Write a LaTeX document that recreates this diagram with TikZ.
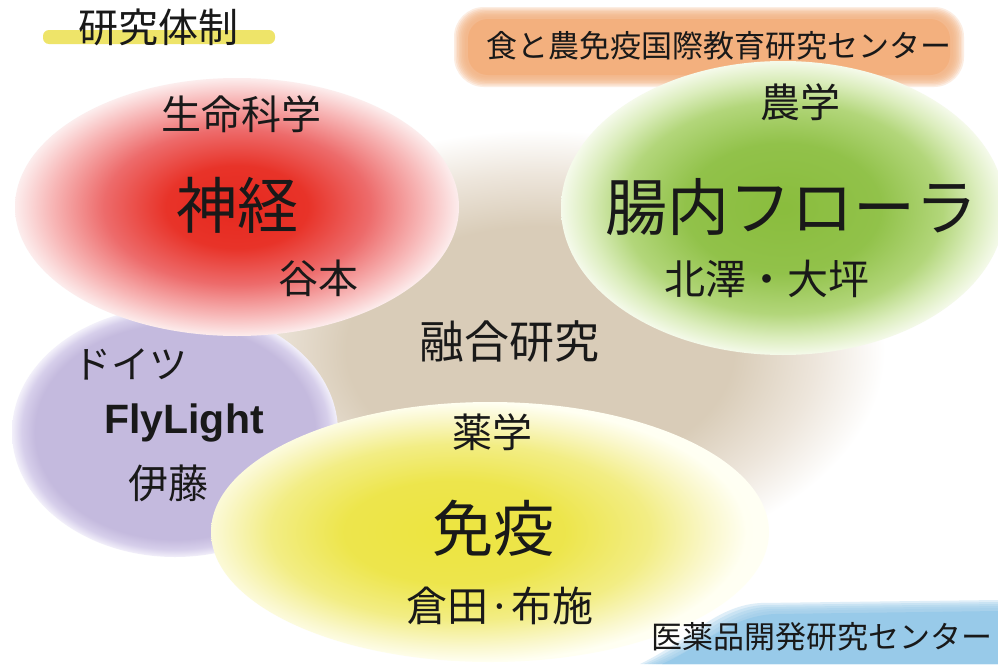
\documentclass[tikz,border=0pt]{standalone}
\usepackage{fontspec}
\setmainfont{Noto Sans CJK JP}
\newfontfamily\latinfont{Liberation Sans}
\pgfdeclareradialshading{redsh}{\pgfpoint{0bp}{0bp}}{rgb(0bp)=(0.90,0.16,0.12); rgb(8bp)=(0.91,0.20,0.16); rgb(15bp)=(0.93,0.42,0.42); rgb(21bp)=(0.97,0.72,0.72); rgb(25bp)=(0.99,0.93,0.93); rgb(50bp)=(1,1,1)}
\pgfdeclareradialshading{greensh}{\pgfpoint{0bp}{0bp}}{rgb(0bp)=(0.54,0.74,0.24); rgb(11bp)=(0.57,0.76,0.29); rgb(18bp)=(0.70,0.84,0.48); rgb(22bp)=(0.86,0.93,0.74); rgb(25bp)=(0.96,0.98,0.92); rgb(50bp)=(1,1,1)}
\pgfdeclareradialshading{yellowsh}{\pgfpoint{-4bp}{0bp}}{rgb(0bp)=(0.93,0.90,0.25); rgb(10bp)=(0.93,0.90,0.30); rgb(17bp)=(0.95,0.93,0.52); rgb(22bp)=(0.98,0.97,0.80); rgb(25bp)=(1,1,0.95); rgb(50bp)=(1,1,1)}
\pgfdeclareradialshading{purplesh}{\pgfpoint{0bp}{0bp}}{rgb(0bp)=(0.77,0.73,0.87); rgb(21.5bp)=(0.77,0.73,0.87); rgb(23.5bp)=(0.84,0.81,0.92); rgb(25bp)=(0.95,0.94,0.98); rgb(50bp)=(1,1,1)}
\pgfdeclareradialshading{brownsh}{\pgfpoint{0bp}{0bp}}{rgb(0bp)=(0.85,0.80,0.72); rgb(14bp)=(0.85,0.80,0.72); rgb(20bp)=(0.93,0.90,0.86); rgb(25bp)=(1,1,1); rgb(50bp)=(1,1,1)}
\definecolor{orng}{RGB}{243,176,126}
\definecolor{bluebar}{RGB}{152,202,233}
\definecolor{hilite}{RGB}{238,228,105}
\tikzset{
  lbl/.style={inner sep=0pt, text=black!90},
  fs/.style={font=\fontsize{#1}{#1}\selectfont}
}
\begin{document}
\begin{tikzpicture}[x=1pt,y=-1pt]
\useasboundingbox (0,0) rectangle (998,664);
\fill[white] (0,0) rectangle (998,664);
% background blob
\shade[shading=brownsh] (540,350) ellipse [x radius=345, y radius=220];
% purple
\shade[shading=purplesh] (175,432) ellipse [x radius=163, y radius=125];
% red
\shade[shading=redsh] (237,207) ellipse [x radius=222, y radius=129];
% orange bar (soft edges by layers)
\foreach \k in {0,...,7}{
  \fill[orng, opacity=0.22, rounded corners={30-1.2*\k}]
    ({454+1.6*\k},{7+1.4*\k}) rectangle ({964-1.6*\k},{87-1.4*\k});
}
\fill[orng, rounded corners=20] (468,19) rectangle (950,75);
% green
\shade[shading=greensh] (783,208) ellipse [x radius=222, y radius=147];
% yellow
\shade[shading=yellowsh] (490,532) ellipse [x radius=279, y radius=130];
% blue bar
\foreach \k in {0,...,4}{
  \fill[bluebar, opacity=0.3] ({640+4*\k},664) .. controls ({690+4*\k},{640+2*\k}) and ({715+3*\k},{606+2*\k}) .. ({760+3*\k},{603+2*\k}) -- (998,{600+2*\k}) -- (998,664) -- cycle;
}
\fill[bluebar] (662,664) .. controls (705,645) and (730,616) .. (775,614) -- (998,611) -- (998,664) -- cycle;
% highlight
\fill[hilite, rounded corners=6] (43,30) rectangle (275,44);
% texts
\node[lbl, fs=40] (title) at (158,27) {研究体制};
\node[lbl, fs=31] (ctr1) at (719,46) {食と農免疫国際教育研究センター};
\node[lbl, fs=40] (life) at (241,114) {生命科学};
\node[lbl, fs=61] (neuro) at (237,205) {神経};
\node[lbl, fs=40] (tani) at (318,278) {谷本};
\node[lbl, fs=40] (agri) at (800,102) {農学};
\node[lbl, fs=62] (flora) at (791,207) {腸内フローラ};
\node[lbl, fs=41] (kita) at (767,279) {北澤・大坪};
\node[lbl, fs=45] (fusion) at (509,341) {融合研究};
\node[lbl, fs=38] (de) at (130,364) {ドイツ};
\node[lbl, anchor=base, font=\latinfont\bfseries\fontsize{41}{41}\selectfont] (fly) at (184,433) {FlyLight};
\node[lbl, fs=40] (ito) at (168,483) {伊藤};
\node[lbl, fs=40] (pharm) at (492,432) {薬学};
\node[lbl, fs=61] (immu) at (493,528) {免疫};
\node[lbl, fs=41] (kura) at (500,606) {倉田·布施};
\node[lbl, fs=31] (ctr2) at (822,637) {医薬品開発研究センター};
\end{tikzpicture}
\end{document}
